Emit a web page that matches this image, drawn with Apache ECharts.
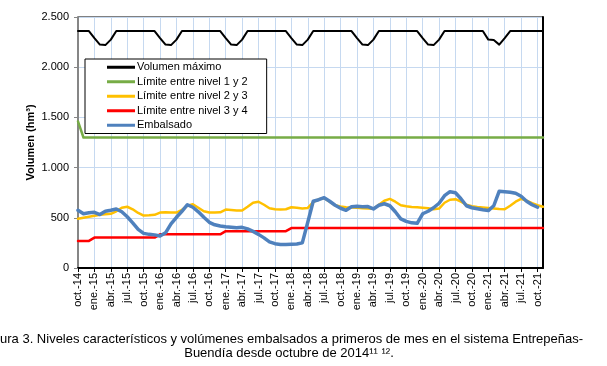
<!DOCTYPE html>
<html>
<head>
<meta charset="utf-8">
<script src="https://cdn.jsdelivr.net/npm/echarts@6/dist/echarts.min.js"></script>
<style>
html,body{margin:0;padding:0;background:#fff;}
#chart{width:607px;height:366px;}
</style>
</head>
<body>
<div id="chart"></div>
<script>
// ---- Categories (monthly, oct-14 .. nov-21) ----
var months = [
 'oct.-14','nov.-14','dic.-14',
 'ene.-15','feb.-15','mar.-15','abr.-15','may.-15','jun.-15','jul.-15','ago.-15','sep.-15','oct.-15','nov.-15','dic.-15',
 'ene.-16','feb.-16','mar.-16','abr.-16','may.-16','jun.-16','jul.-16','ago.-16','sep.-16','oct.-16','nov.-16','dic.-16',
 'ene.-17','feb.-17','mar.-17','abr.-17','may.-17','jun.-17','jul.-17','ago.-17','sep.-17','oct.-17','nov.-17','dic.-17',
 'ene.-18','feb.-18','mar.-18','abr.-18','may.-18','jun.-18','jul.-18','ago.-18','sep.-18','oct.-18','nov.-18','dic.-18',
 'ene.-19','feb.-19','mar.-19','abr.-19','may.-19','jun.-19','jul.-19','ago.-19','sep.-19','oct.-19','nov.-19','dic.-19',
 'ene.-20','feb.-20','mar.-20','abr.-20','may.-20','jun.-20','jul.-20','ago.-20','sep.-20','oct.-20','nov.-20','dic.-20',
 'ene.-21','feb.-21','mar.-21','abr.-21','may.-21','jun.-21','jul.-21','ago.-21','sep.-21','oct.-21','nov.-21'
];

// ---- Series values (hm3) ----
var volumenMaximo = [
 2360,2360,2360,
 2290,2225,2220,2275,2360,2360,2360,2360,2360,2360,2360,2360,
 2290,2225,2220,2275,2360,2360,2360,2360,2360,2360,2360,2360,
 2290,2225,2220,2275,2360,2360,2360,2360,2360,2360,2360,2360,
 2290,2225,2220,2275,2360,2360,2360,2360,2360,2360,2360,2360,
 2290,2225,2220,2275,2360,2360,2360,2360,2360,2360,2360,2360,
 2290,2225,2220,2275,2360,2360,2360,2360,2360,2360,2360,2360,
 2275,2270,2225,2290,2360,2360,2360,2360,2360,2360,2360
];

var limite12 = [
 1460,1300,1300,
 1300,1300,1300,1300,1300,1300,1300,1300,1300,1300,1300,1300,
 1300,1300,1300,1300,1300,1300,1300,1300,1300,1300,1300,1300,
 1300,1300,1300,1300,1300,1300,1300,1300,1300,1300,1300,1300,
 1300,1300,1300,1300,1300,1300,1300,1300,1300,1300,1300,1300,
 1300,1300,1300,1300,1300,1300,1300,1300,1300,1300,1300,1300,
 1300,1300,1300,1300,1300,1300,1300,1300,1300,1300,1300,1300,
 1300,1300,1300,1300,1300,1300,1300,1300,1300,1300,1300
];

var limite23 = [
 490,500,510,
 520,530,535,540,565,600,610,585,548,522,525,530,
 552,555,553,552,580,620,635,600,565,553,552,555,
 582,578,572,572,610,650,660,630,595,585,583,585,
 605,600,592,598,655,685,695,660,625,612,606,602,
 600,596,592,590,630,670,688,660,625,615,608,604,
 601,595,585,592,650,680,685,660,630,615,607,602,
 598,593,587,585,620,660,688,670,645,625,610
];

var limite34 = [
 270,270,270,
 303,303,303,303,303,303,303,303,303,303,303,303,
 335,335,335,335,335,335,335,335,335,335,335,335,
 367,367,367,367,367,367,367,367,367,367,367,367,
 398,398,398,398,398,398,398,398,398,398,398,398,
 398,398,398,398,398,398,398,398,398,398,398,398,
 398,398,398,398,398,398,398,398,398,398,398,398,
 398,398,398,398,398,398,398,398,398,398,398
];

var embalsado = [
 575,540,550,
 555,532,565,575,588,560,510,450,385,345,335,330,
 318,350,440,505,565,630,605,560,505,455,430,418,
 410,405,400,405,390,365,335,300,260,242,235,235,
 237,240,250,455,665,680,700,665,625,595,575,610,
 615,610,612,588,625,640,620,560,490,465,450,445,
 540,565,600,645,720,760,750,690,620,600,590,580,
 572,620,765,760,755,745,715,665,630,605
];

var yTicks = [0, 500, 1000, 1500, 2000, 2500];

var seriesNames = ['Volumen máximo','Límite entre nivel 1 y 2','Límite entre nivel 2 y 3','Límite entre nivel 3 y 4','Embalsado'];
var captionLine1 = 'ura 3. Niveles característicos y volúmenes embalsados a primeros de mes en el sistema Entrepeñas-';
var captionLine2 = 'Buendía desde octubre de 2014¹¹ ¹².';

var FONT = '"Liberation Sans", Arial, sans-serif';

function fmt(v){
  var s = String(Math.round(v));
  return s.replace(/\B(?=(\d{3})+(?!\d))/g, '.');
}

var chart = echarts.init(document.getElementById('chart'), null, {renderer:'canvas'});

function lineSeries(name, data, color, width, z){
  return {
    name: name, type: 'line', data: data, yAxisIndex: 0,
    symbol: 'none', showSymbol: false, smooth: false, z: z,
    lineStyle: {color: color, width: width, cap: 'round', join: 'round'},
    itemStyle: {color: color},
    emphasis: {disabled: true},
    animation: false
  };
}

var option = {
  animation: false,
  backgroundColor: '#fff',
  textStyle: {fontFamily: FONT},
  grid: {left: 78, right: 64, top: 17, bottom: 98, show: true, borderColor: '#000', borderWidth: 1, backgroundColor: '#fff'},
  legend: {
    orient: 'vertical', left: 85, top: 59,
    data: seriesNames.map(function(n){ return {name: n, icon: 'rect'}; }),
    itemWidth: 28, itemHeight: 3, itemGap: 0,
    padding: [1, 19, 1, 22],
    borderColor: '#000', borderWidth: 1, backgroundColor: '#fff',
    textStyle: {fontFamily: FONT, fontSize: 11, color: '#000', lineHeight: 14.5, padding: [0,0,0,-3]},
    selectedMode: false
  },
  xAxis: {
    type: 'category', data: months, boundaryGap: false,
    axisLine: {show: true, lineStyle: {color: '#000', width: 2}},
    axisTick: {show: true, interval: 2, length: 4, lineStyle: {color: '#000'}},
    axisLabel: {interval: 2, rotate: 90, fontFamily: FONT, fontSize: 11, color: '#000', margin: 5},
    splitLine: {show: true, interval: 2, lineStyle: {color: '#c6d9f0', width: 1}}
  },
  yAxis: [{
    type: 'value', min: 0, max: 2500, interval: 500,
    name: 'Volumen (hm³)', nameLocation: 'middle', nameGap: 42, nameMoveOverlap: false,
    nameTextStyle: {fontFamily: FONT, fontSize: 11, fontWeight: 'bold', color: '#000'},
    axisLine: {show: true, lineStyle: {color: '#868686', width: 2}},
    axisTick: {show: true, length: 4, lineStyle: {color: '#868686'}},
    axisLabel: {fontFamily: FONT, fontSize: 11, color: '#000', margin: 9,
      formatter: function(v){ return yTicks.indexOf(v) >= 0 ? fmt(v) : ''; }},
    splitLine: {show: true, lineStyle: {color: '#c6d9f0', width: 1}}
  },{
    type: 'value', min: 0, max: 2500, interval: 500, position: 'right',
    axisLine: {show: true, lineStyle: {color: '#000', width: 2}},
    axisTick: {show: false}, axisLabel: {show: false}, splitLine: {show: false}
  }],
  series: [
    lineSeries(seriesNames[0], volumenMaximo, '#000000', 2, 5),
    lineSeries(seriesNames[1], limite12, '#77ac46', 2.5, 4),
    lineSeries(seriesNames[2], limite23, '#ffc000', 2.5, 3),
    lineSeries(seriesNames[3], limite34, '#ff0000', 2.5, 3),
    lineSeries(seriesNames[4], embalsado, '#4f81bd', 3.5, 6)
  ],
  graphic: [
    {type: 'text', left: 0, top: 333, silent: true,
     style: {text: captionLine1, fontFamily: FONT, fontSize: 13, fill: '#000'}},
    {type: 'text', x: 289, y: 347, silent: true,
     style: {text: captionLine2, fontFamily: FONT, fontSize: 13, fill: '#000', textAlign: 'center', textVerticalAlign: 'top'}}
  ]
};
chart.setOption(option);
</script>
</body>
</html>
